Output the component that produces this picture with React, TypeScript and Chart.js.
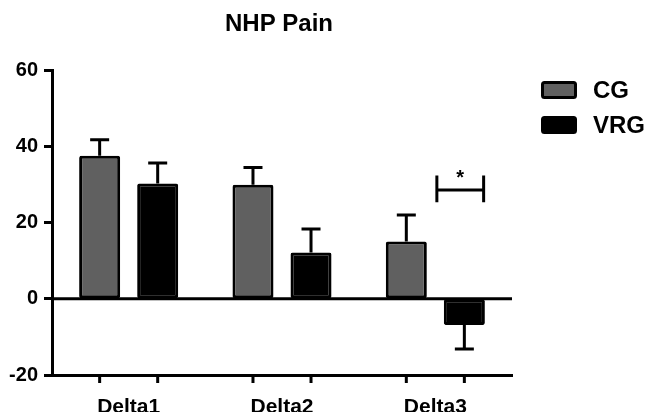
import React, { useEffect, useRef } from "react";
import { Chart, registerables } from "chart.js";

Chart.register(...registerables);

const categories = ["Delta1", "Delta2", "Delta3"];
const cgMeans = [37.5, 29.9, 15.0];
const cgSem = [4.2, 4.5, 7.0];
const vrgMeans = [30.2, 12.1, -6.9];
const vrgSem = [5.4, 6.2, 6.3];
const yMin = -20;
const yMax = 60;
const yStep = 20;

// significance bracket between CG and VRG at Delta3
const sigCategory = 2;
const sigLevel = 28.5;
const sigEndHigh = 32.3;
const sigEndLow = 25.3;
const sigLabel = "*";

const FONT = "'Liberation Sans', Arial, Helvetica, sans-serif";
const CG_COLOR = "#606060";
const VRG_COLOR = "#000000";

const semBySet = [cgSem, vrgSem];

const errorBarPlugin = {
  id: "errorBars",
  afterDatasetsDraw(chart: any) {
    const { ctx, scales } = chart;
    const y = scales.y;
    ctx.save();
    ctx.strokeStyle = "#000";
    ctx.lineWidth = 3;
    ctx.lineCap = "butt";
    chart.data.datasets.forEach((ds: any, di: number) => {
      const meta = chart.getDatasetMeta(di);
      meta.data.forEach((el: any, i: number) => {
        const mean = ds.data[i];
        const sem = semBySet[di][i];
        const tip = mean >= 0 ? mean + sem : mean - sem;
        const y0 = y.getPixelForValue(mean);
        const y1 = y.getPixelForValue(tip);
        ctx.beginPath();
        ctx.moveTo(el.x, y0);
        ctx.lineTo(el.x, y1);
        ctx.moveTo(el.x - 9.5, y1);
        ctx.lineTo(el.x + 9.5, y1);
        ctx.stroke();
      });
    });
    ctx.restore();
  },
};

const axesExtrasPlugin = {
  id: "axesExtras",
  beforeDatasetsDraw(chart: any) {
    const { ctx, chartArea, scales } = chart;
    const y0 = scales.y.getPixelForValue(0);
    ctx.save();
    ctx.strokeStyle = "#000";
    ctx.lineWidth = 3;
    ctx.beginPath();
    ctx.moveTo(chartArea.left, y0);
    ctx.lineTo(chartArea.right, y0);
    ctx.stroke();
    ctx.restore();
  },
  afterDatasetsDraw(chart: any) {
    const { ctx, chartArea } = chart;
    ctx.save();
    ctx.strokeStyle = "#000";
    ctx.lineWidth = 3;
    chart.data.datasets.forEach((_ds: any, di: number) => {
      chart.getDatasetMeta(di).data.forEach((el: any) => {
        ctx.beginPath();
        ctx.moveTo(el.x, chartArea.bottom);
        ctx.lineTo(el.x, chartArea.bottom + 8);
        ctx.stroke();
      });
    });
    ctx.restore();
  },
};

const sigPlugin = {
  id: "sigBracket",
  afterDatasetsDraw(chart: any) {
    const { ctx, scales } = chart;
    const x = scales.x;
    const y = scales.y;
    const cw = x.width / categories.length;
    const cx = x.getPixelForValue(sigCategory);
    const xa = cx + cw * 0.01;
    const xb = cx + cw * 0.315;
    const yl = y.getPixelForValue(sigLevel);
    const yh = y.getPixelForValue(sigEndHigh);
    const ylo = y.getPixelForValue(sigEndLow);
    ctx.save();
    ctx.strokeStyle = "#000";
    ctx.lineWidth = 3;
    ctx.beginPath();
    ctx.moveTo(xa, yh);
    ctx.lineTo(xa, ylo);
    ctx.moveTo(xb, yh);
    ctx.lineTo(xb, ylo);
    ctx.moveTo(xa, yl);
    ctx.lineTo(xb, yl);
    ctx.stroke();
    ctx.fillStyle = "#000";
    ctx.font = `bold 20px ${FONT}`;
    ctx.textAlign = "center";
    ctx.textBaseline = "alphabetic";
    ctx.fillText(sigLabel, (xa + xb) / 2, yh + 8);
    ctx.restore();
  },
};

const titleLegendPlugin = {
  id: "titleLegend",
  afterDraw(chart: any) {
    const { ctx, chartArea } = chart;
    ctx.save();
    ctx.fillStyle = "#000";
    ctx.font = `bold 24px ${FONT}`;
    ctx.textAlign = "center";
    ctx.textBaseline = "alphabetic";
    ctx.fillText("NHP Pain", (chartArea.left + chartArea.right) / 2 - 3, 31);

    chart.data.datasets.forEach((ds: any, i: number) => {
      const bx = chartArea.right + 29;
      const by = chartArea.top + 11 + i * 35;
      ctx.beginPath();
      ctx.roundRect(bx + 1.5, by + 1.5, 33, 15, 2);
      ctx.fillStyle = ds.backgroundColor;
      ctx.fill();
      ctx.lineWidth = 3;
      ctx.strokeStyle = "#000";
      ctx.stroke();
      ctx.fillStyle = "#000";
      ctx.font = `bold 24px ${FONT}`;
      ctx.textAlign = "left";
      ctx.textBaseline = "middle";
      ctx.fillText(ds.label, bx + 52, by + 10);
    });
    ctx.restore();
  },
};

export default function App() {
  const canvasRef = useRef<HTMLCanvasElement | null>(null);

  useEffect(() => {
    document.body.style.margin = "0";
    const canvas = canvasRef.current;
    if (!canvas) return;
    const chart = new Chart(canvas, {
      type: "bar",
      data: {
        labels: categories,
        datasets: [
          {
            label: "CG",
            data: cgMeans,
            backgroundColor: CG_COLOR,
            borderColor: "#000",
            borderWidth: 3,
            borderRadius: 2,
            borderSkipped: false,
          },
          {
            label: "VRG",
            data: vrgMeans,
            backgroundColor: VRG_COLOR,
            borderColor: "#000",
            borderWidth: 3,
            borderRadius: 2,
            borderSkipped: false,
          },
        ],
      },
      options: {
        responsive: false,
        animation: false,
        events: [],
        layout: { padding: { top: 70, right: 138, bottom: 0, left: 0 } },
        datasets: {
          bar: { categoryPercentage: 0.757, barPercentage: 0.707 },
        },
        plugins: {
          legend: { display: false },
          title: { display: false },
          tooltip: { enabled: false },
        },
        scales: {
          x: {
            type: "category",
            offset: true,
            grid: { display: false, drawTicks: false },
            border: { display: true, color: "#000", width: 3 },
            ticks: {
              color: "#000",
              font: { family: FONT, size: 21, weight: "bold" },
              padding: 20,
            },
            afterFit(scale: any) {
              scale.height = 37;
            },
          },
          y: {
            min: yMin,
            max: yMax,
            ticks: {
              stepSize: yStep,
              color: "#000",
              font: { family: FONT, size: 20, weight: "bold" },
              padding: 6,
            },
            grid: {
              display: true,
              drawOnChartArea: false,
              drawTicks: true,
              tickLength: 8,
              tickWidth: 3,
              tickColor: "#000",
            },
            border: { display: true, color: "#000", width: 3 },
            afterFit(scale: any) {
              scale.width = 52;
            },
          },
        },
      },
      plugins: [axesExtrasPlugin, errorBarPlugin, sigPlugin, titleLegendPlugin],
    });
    return () => chart.destroy();
  }, []);

  return (
    <div style={{ width: 650, height: 412 }}>
      <canvas ref={canvasRef} width={650} height={412} />
    </div>
  );
}
